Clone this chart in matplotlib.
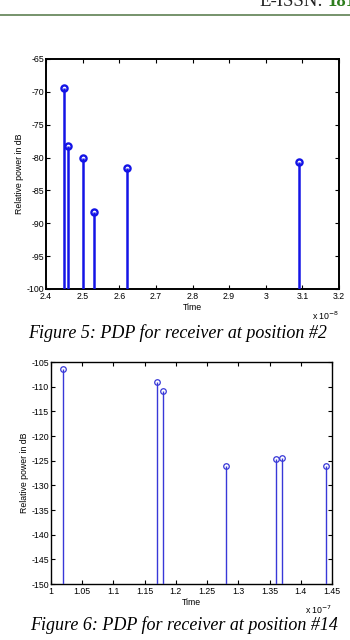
"""Two power-delay-profile stem plots (receiver positions #2 and #14) as on the scanned page."""
import matplotlib
matplotlib.use("Agg")
import matplotlib.pyplot as plt
from matplotlib.lines import Line2D
from matplotlib.ticker import FuncFormatter

# Figure 5: receiver at position #2 (time in seconds, power in dB)
t_pos2 = [2.45e-8, 2.46e-8, 2.50e-8, 2.53e-8, 2.62e-8, 3.09e-8]
p_pos2 = [-69.4, -78.2, -80.0, -88.3, -81.6, -80.7]
xticks_pos2 = [2.4e-8, 2.5e-8, 2.6e-8, 2.7e-8, 2.8e-8, 2.9e-8, 3.0e-8, 3.1e-8, 3.2e-8]
yticks_pos2 = [-100, -95, -90, -85, -80, -75, -70, -65]

# Figure 6: receiver at position #14
t_pos14 = [1.02e-7, 1.17e-7, 1.18e-7, 1.28e-7, 1.36e-7, 1.37e-7, 1.44e-7]
p_pos14 = [-106.4, -109.0, -110.8, -126.0, -124.7, -124.4, -126.0]
xticks_pos14 = [1.0e-7, 1.05e-7, 1.1e-7, 1.15e-7, 1.2e-7, 1.25e-7, 1.3e-7,
                1.35e-7, 1.4e-7, 1.45e-7]
yticks_pos14 = [-150, -145, -140, -135, -130, -125, -120, -115, -110, -105]

SANS = "Liberation Sans"
SERIF = "Liberation Serif"
TICK_FS = 6.3

plt.rcParams["axes.unicode_minus"] = False

fig = plt.figure(figsize=(3.5, 6.4), dpi=100)

# page header remnant (cut off at the top/right edge in the scan)
fig.text(0.922, 1 - 6 / 640, "E-ISSN:", family=SERIF, fontsize=13.5,
         va="baseline", ha="right", color="#222222")
fig.text(0.935, 1 - 6 / 640, "181", family=SERIF, fontsize=13.5,
         fontweight="bold", va="baseline", ha="left", color="#2e7d1e")
fig.add_artist(Line2D([0, 1], [1 - 14.5 / 640] * 2, color="#6b8a60", lw=1.3,
                      transform=fig.transFigure))


def pdp_axes(rect, t, p, xticks, yticks, scale, exp, lw, ms, mew, color, spine_lw):
    ax = fig.add_axes(rect)
    ymin, ymax = yticks[0], yticks[-1]
    ax.vlines(t, ymin, p, color=color, lw=lw, zorder=3)
    ax.plot(t, p, "o", ms=ms, mfc="none", mec=color, mew=mew, zorder=4,
            clip_on=False)
    ax.set_xlim(xticks[0], xticks[-1])
    ax.set_ylim(ymin, ymax)
    ax.set_xticks(xticks)
    ax.set_yticks(yticks)
    ax.xaxis.set_major_formatter(FuncFormatter(lambda v, _: f"{v / scale:g}"))
    ax.tick_params(direction="in", top=True, right=True, length=3,
                   width=0.8, labelsize=TICK_FS, pad=1.5)
    ax.tick_params(axis="x", pad=2.5)
    for lab in ax.get_xticklabels() + ax.get_yticklabels():
        lab.set_family(SANS)
    for s in ax.spines.values():
        s.set_linewidth(spine_lw)
    ax.set_xlabel("Time", family=SANS, fontsize=TICK_FS, labelpad=1.0)
    ax.set_ylabel("Relative power in dB", family=SANS, fontsize=TICK_FS, labelpad=2)
    ax.text(1.0, -0.115, "x 10$^{" + exp + "}$", transform=ax.transAxes,
            ha="right", va="center", family=SANS, fontsize=TICK_FS)
    return ax


pdp_axes([46 / 350, 1 - 289 / 640, 293 / 350, 230 / 640],
         t_pos2, p_pos2, xticks_pos2, yticks_pos2, 1e-8, "-8",
         lw=1.8, ms=4.4, mew=1.7, color="#1414e6", spine_lw=1.4)
fig.text(178 / 350, 1 - 333 / 640, "Figure 5: PDP for receiver at position #2",
         family=SERIF, style="italic", fontsize=13, ha="center", va="center")

pdp_axes([51 / 350, 1 - 584 / 640, 281 / 350, 222 / 640],
         t_pos14, p_pos14, xticks_pos14, yticks_pos14, 1e-7, "-7",
         lw=1.0, ms=4.0, mew=0.9, color="#3838d8", spine_lw=1.0)
fig.text(184 / 350, 1 - 625 / 640, "Figure 6: PDP for receiver at position #14",
         family=SERIF, style="italic", fontsize=13, ha="center", va="center")

fig.savefig("out.png", dpi=100)
